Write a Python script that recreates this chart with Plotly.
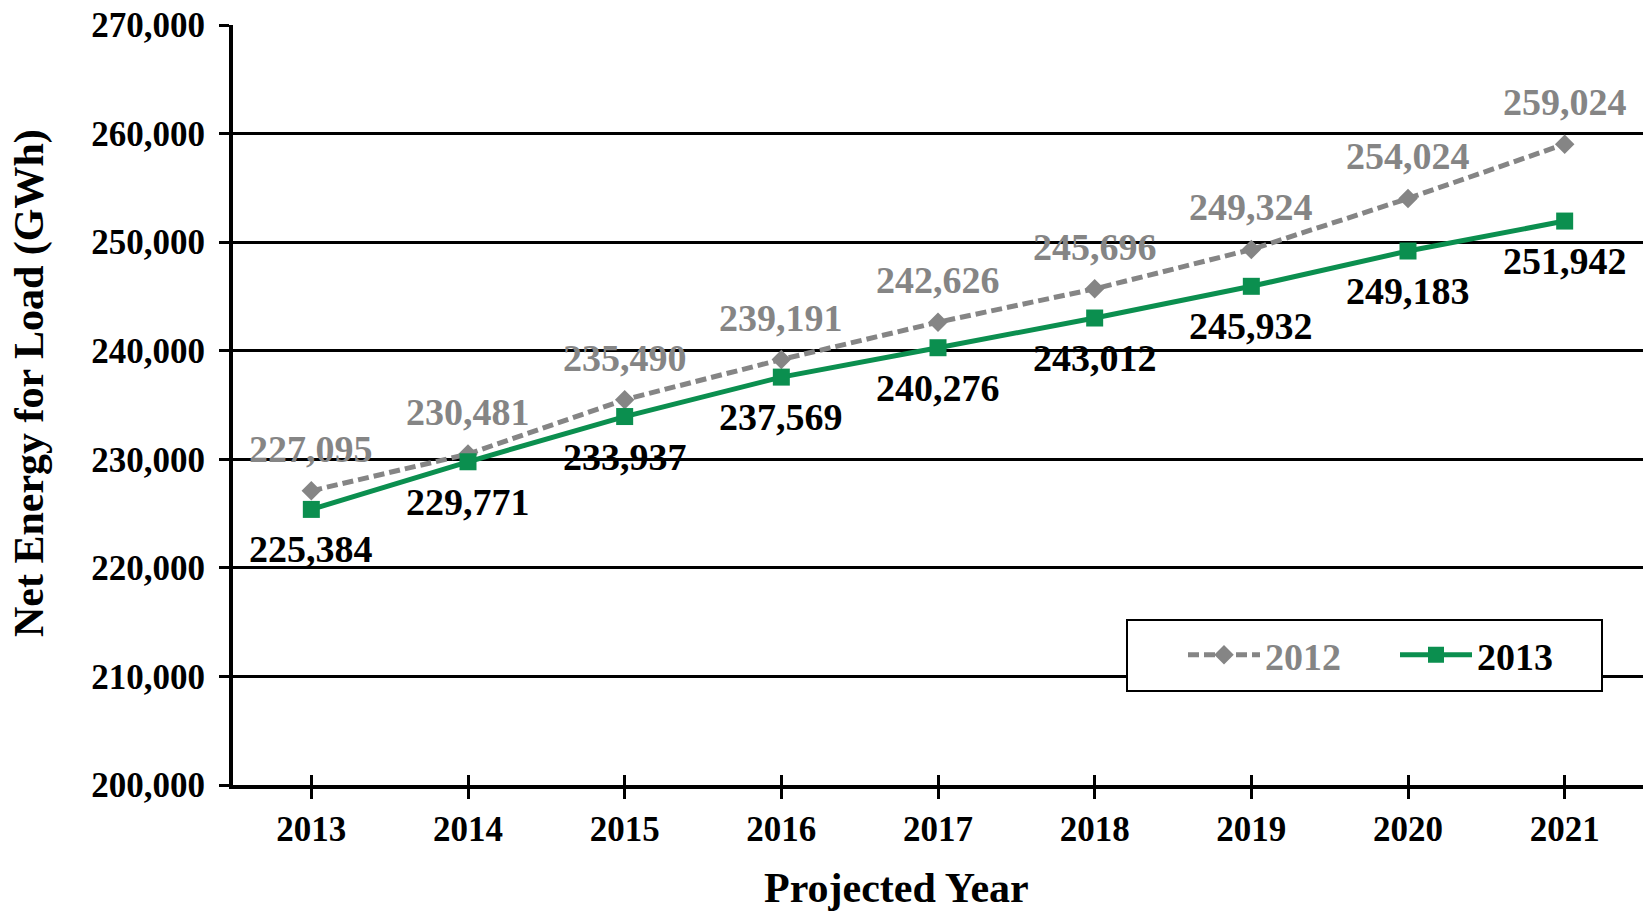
import plotly.graph_objects as go

# Net energy for load forecasts (GWh)
years = [2013, 2014, 2015, 2016, 2017, 2018, 2019, 2020, 2021]
forecast_2012 = [227095, 230481, 235490, 239191, 242626, 245696, 249324, 254024, 259024]
forecast_2013 = [225384, 229771, 233937, 237569, 240276, 243012, 245932, 249183, 251942]
y_ticks = [200000, 210000, 220000, 230000, 240000, 250000, 260000, 270000]

GRAY = "#858585"
GREEN = "#0B8F4F"
FONT = "Liberation Serif"

# plot area in page pixels: x 233..1643, y 25..785
L, R, T, B = 233, 1643, 25, 785
def px_x(v):
    return (v - L) / (R - L)
def px_y(v):
    return (B - v) / (B - T)

fig = go.Figure()

fig.add_trace(go.Scatter(
    x=years, y=forecast_2012, name=f"<span style='color:{GRAY}'>2012</span>",
    mode="lines+markers",
    line=dict(color=GRAY, width=5, dash="11px,5px"),
    marker=dict(symbol="diamond", size=15, color=GRAY),
))
fig.add_trace(go.Scatter(
    x=years, y=forecast_2013, name="2013",
    mode="lines+markers",
    line=dict(color=GREEN, width=5),
    marker=dict(symbol="square", size=17, color=GREEN),
))

# data labels
for x, v in zip(years, forecast_2012):
    fig.add_annotation(x=x, y=v, text=f"{v:,}", showarrow=False, yshift=42,
                       font=dict(family=FONT, size=38, color=GRAY, weight="bold"))
for x, v in zip(years, forecast_2013):
    fig.add_annotation(x=x, y=v, text=f"{v:,}", showarrow=False, yshift=-40,
                       font=dict(family=FONT, size=38, color="black", weight="bold"))

# axis titles (placed off-centre like the original)
fig.add_annotation(xref="paper", yref="paper", x=px_x(896), y=px_y(888),
                   text="Projected Year", showarrow=False,
                   xanchor="center", yanchor="middle",
                   font=dict(family=FONT, size=42, color="black", weight="bold"))
fig.add_annotation(xref="paper", yref="paper", x=px_x(29), y=px_y(383),
                   text="Net Energy for Load (GWh)", showarrow=False, textangle=-90,
                   xanchor="center", yanchor="middle",
                   font=dict(family=FONT, size=42, color="black", weight="bold"))

# legend frame
fig.add_shape(type="rect", xref="paper", yref="paper",
              x0=px_x(1127), x1=px_x(1602), y0=px_y(691), y1=px_y(620),
              line=dict(color="black", width=2), fillcolor="white", layer="above")

fig.update_layout(
    width=1643, height=915,
    margin=dict(l=L, r=1643 - R, t=T, b=915 - B, autoexpand=False),
    plot_bgcolor="white", paper_bgcolor="white",
    font=dict(family=FONT, color="black"),
    showlegend=True,
    legend=dict(
        orientation="h", x=px_x(1183), y=px_y(655),
        xanchor="left", yanchor="middle",
        bgcolor="rgba(0,0,0,0)", borderwidth=0,
        font=dict(family=FONT, size=38, color="black", weight="bold"),
        itemwidth=72, entrywidth=125,
    ),
    xaxis=dict(
        range=[2012.5, 2021.5], tickvals=years, ticktext=[str(y) for y in years],
        showgrid=False, showline=True, linecolor="black", linewidth=4,
        ticks="outside", ticklen=10, tickwidth=3, tickcolor="black",
        ticklabelstandoff=0, automargin=False,
        tickfont=dict(family=FONT, size=35, color="black", weight="bold"),
        zeroline=False,
    ),
    xaxis2=dict(
        overlaying="x", anchor="y", side="bottom",
        range=[2012.5, 2021.5], tickvals=years, showticklabels=False,
        ticks="inside", ticklen=10, tickwidth=3, tickcolor="black",
        showgrid=False, showline=False, zeroline=False,
    ),
    yaxis=dict(
        range=[200000, 270000], tickvals=y_ticks,
        ticktext=[f"{v:,}" for v in y_ticks],
        showgrid=True, gridcolor="black", gridwidth=3,
        showline=True, linecolor="black", linewidth=4,
        ticks="outside", ticklen=10, tickwidth=3, tickcolor="black",
        ticklabelstandoff=7, automargin=False,
        tickfont=dict(family=FONT, size=35, color="black", weight="bold"),
        zeroline=False,
    ),
)

# invisible trace to activate the overlaying axis carrying the inside ticks
fig.add_trace(go.Scatter(x=years, y=forecast_2013, xaxis="x2", yaxis="y",
                         mode="markers", marker=dict(opacity=0), showlegend=False,
                         hoverinfo="skip"))

fig.write_html("out.html", config={"displayModeBar": False},
               post_script="document.body.style.margin='0';"
                           "document.body.style.overflow='hidden';")
